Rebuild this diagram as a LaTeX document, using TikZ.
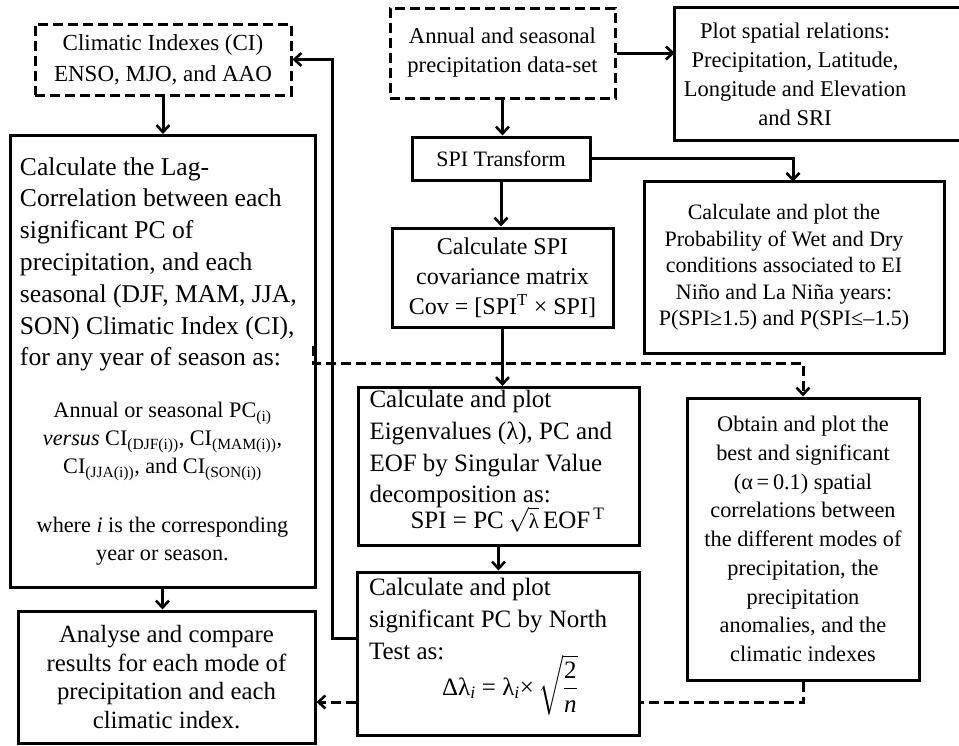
\documentclass[tikz,border=0pt]{standalone}
\usepackage{amsmath}
\usepackage{fontspec}
\setmainfont{Liberation Serif}
\usetikzlibrary{arrows.meta}
\newcommand{\fsz}[2]{\fontsize{#1}{#2}\selectfont}
\newcommand{\ns}{\spaceskip=0pt\xspaceskip=0pt\parskip=0pt\lineskiplimit=-100pt\relax}
\newcommand{\zrule}{\hrule height 0pt depth 0pt width 0pt\relax}
\begin{document}
\begin{tikzpicture}[x=1pt,y=-1pt,
  bx/.style={draw, line width=3pt, inner sep=0pt, align=center},
  dbx/.style={bx, dash pattern=on 10pt off 5pt},
  pbx/.style={draw, line width=3pt, inner sep=0pt},
  tx/.style={inner sep=0pt, align=center},
  bline/.style={line width=3pt},
  dline/.style={line width=3pt, dash pattern=on 10pt off 5pt},
  conn/.style={line width=3pt, -{Straight Barb[length=7pt,width=13pt,line width=2.6pt]}},
  dconn/.style={conn, dash pattern=on 10pt off 5pt}]
\useasboundingbox (0,0) rectangle (959,745);
\clip (0,0) rectangle (959,745);

% nodes
\node[dbx, minimum width=256, minimum height=71, font=\fsz{23}{31}] (ci) at (163,59.5)
  {Climatic Indexes (CI)\\ENSO, MJO, and AAO};
\node[dbx, minimum width=225, minimum height=90, font=\fsz{22.6}{29}] (ann) at (502.5,53)
  {Annual and seasonal\\precipitation data-set};
\node[tx, minimum width=240, minimum height=132, font=\fsz{22.5}{29}] (plot) at (795,74)
  {Plot spatial relations:\\Precipitation, Latitude,\\Longitude and Elevation\\and SRI};
\draw[bline] (plot.south west) rectangle ([xshift=300pt]plot.north west);
\node[bx, minimum width=178, minimum height=43, font=\fsz{22}{26}] (spi) at (501,158.5)
  {SPI Transform};
\node[tx, minimum width=278, minimum height=171, font=\fsz{22}{26.5}] (prob) at (784,267.5)
  {Calculate and plot the\\Probability of Wet and Dry\\conditions associated to EI\\Niño and La Niña years:\\P(SPI≥1.5) and P(SPI≤–1.5)};
\draw[bline] (prob.south west) rectangle ([xshift=300pt]prob.north west);
\node[bx, minimum width=221, minimum height=99, font=\fsz{24}{30}] (cov) at (502.5,277.5)
  {Calculate SPI\\covariance matrix\\Cov = [SPI\textsuperscript{T} × SPI]};
\node[pbx, minimum width=305, minimum height=452, text width=303pt, font=\fsz{25.6}{31.8}] (lag) at (162.5,361.5)
  {\ns{\raggedright\leftskip=9pt Calculate the Lag-\\Correlation between each\\significant PC of\\precipitation, and each\\seasonal (DJF, MAM, JJA,\\SON) Climatic Index (CI),\\for any year of season as:\par}
   \vspace{24pt}
   {\centering\fsz{22.2}{28}\ns Annual or seasonal PC\textsubscript{(i)}\\\textit{versus} CI\textsubscript{(DJF(i))}, CI\textsubscript{(MAM(i))},\\CI\textsubscript{(JJA(i))}, and CI\textsubscript{(SON(i))}\par}
   \vspace{31pt}
   {\centering\fsz{22.2}{28}\ns where \textit{i} is the corresponding\\year or season.\par}};
\node[pbx, minimum width=281, minimum height=158, text width=258pt, font=\fsz{25}{31.7}] (eig) at (498.5,466.5)
  {\ns\raggedright Calculate and plot\\Eigenvalues (λ), PC and\\EOF by Singular Value\\decomposition as:\par
   \vspace{-5.7pt}
   {\centering\hspace*{18pt}SPI = PC\,$\sqrt{\hbox{\fsz{21}{21}λ}}$\,EOF\textsuperscript{\,T}\par}
   \vspace{10pt}\zrule};
\node[pbx, minimum width=282, minimum height=163, text width=258pt, font=\fsz{25}{31.7}] (north) at (498,653.5)
  {\ns\raggedright Calculate and plot\\significant PC by North\\Test as:\par
   \vspace{4.3pt}
   {\centering\hspace*{24pt}Δλ\textsubscript{\textit{i}} = λ\textsubscript{\textit{i}}×\,$\sqrt{\dfrac{\text{2}}{\text{\textit{n}}}}$\par}
   \vspace{13pt}\zrule};
\node[bx, minimum width=232, minimum height=282, font=\fsz{22.3}{28.75}] (obt) at (803,539)
  {Obtain and plot the\\best and significant\\(α\,=\,0.1) spatial\\correlations between\\the different modes of\\precipitation, the\\precipitation\\anomalies, and the\\climatic indexes};
\node[bx, minimum width=297, minimum height=132, font=\fsz{24.8}{28.5}] (ana) at (166.5,677)
  {Analyse and compare\\results for each mode of\\precipitation and each\\climatic index.};

% connectors
\draw[conn] (ci.south) -- (ci.south |- lag.north);
\draw[conn] (lag.south) -- (lag.south |- ana.north);
\coordinate (jn) at (332,638);
\draw[conn] (north.west |- jn) -- (jn) -- (jn |- ci.east) -- (ci.east);
\draw[conn] (ann.east) -- (ann.east -| plot.west);
\draw[conn] (ann.south) -- (ann.south |- spi.north);
\coordinate (pa) at (793,182);
\draw[conn] (spi.east) -| (pa |- prob.north);
\draw[conn] (spi.south) -- (spi.south |- cov.north);
\draw[conn] (cov.south) -- (cov.south |- eig.north);
\draw[conn] (eig.south) -- (eig.south |- north.north);
\coordinate (ds) at (313,346);
\coordinate (dy) at (803,363);
\draw[dconn] (ds) |- (dy) -- (obt.north);
\coordinate (dz) at (803,702);
\draw[dline] (obt.south) -- (dz) -- (dz -| north.east);
\draw[dconn] (north.west |- dz) -- (dz -| ana.east);
\end{tikzpicture}
\end{document}
